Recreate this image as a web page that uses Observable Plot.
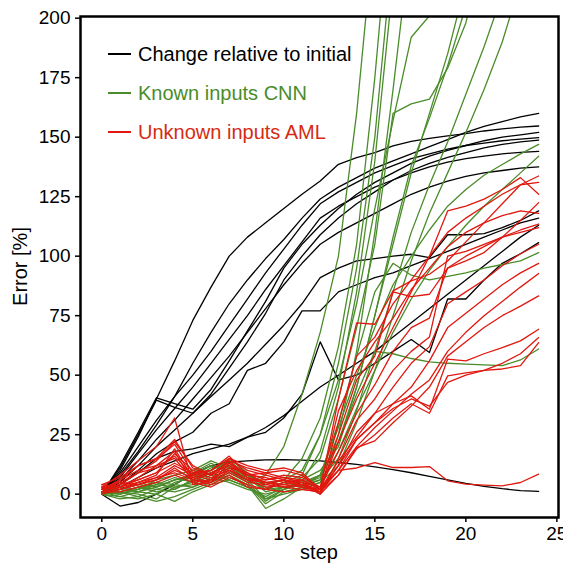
<!DOCTYPE html>
<html><head><meta charset="utf-8">
<script src="https://cdn.jsdelivr.net/npm/d3@7"></script>
<script src="https://cdn.jsdelivr.net/npm/@observablehq/plot@0.6"></script>
<style>
body{margin:0;background:#fff}
#chart{width:563px;height:567px}
</style>
</head><body><div id="chart"></div>
<script>
const steps = [0,1,2,3,4,5,6,7,8,9,10,11,12,13,14,15,16,17,18,19,20,21,22,23,24];
const xTicks = [0,5,10,15,20,25];
const yTicks = [0,25,50,75,100,125,150,175,200];
const xLabel = "step";
const yLabel = "Error [%]";
const seriesNames = ["Change relative to initial","Known inputs CNN","Unknown inputs AML"];
const seriesColors = ["#000000","#4a8c2a","#e0180f"];

// Change relative to initial (black)
const changeRelative = [
  [0,10,24,40,56,73,87,100,108,114,120,126,131.6,138.6,141.4,143.5,146.3,148.2,149.5,150.5,151.5,152.6,153.5,154.2,154.7],
  [0,8,18,29,41,55,68,80,90,99,107,116,124,129,133,137,140,143,146,149,152,154.5,156.5,158.5,160],
  [0,12,26,40.5,38,35.7,44,56,68.6,81,95,105,113,120,126,131,135,139,142,144.5,146.5,148.5,150,151,152],
  [0,11,25,39.5,36.5,34,42,53,64,76,90,100,109,116,122,127,132,136,139,141.5,143.5,145.5,147,148,148.8],
  [0,9,20,31,41,50,60,71,82,93,103,113,122,127,131,135,138,141,143,145,146.5,147.5,148.5,149.2,149.8],
  [0,7,17,27,36,45,55,65,75,86,96,106,116,121,125,129,132,135,137.5,139.5,141,142,143,143.6,144],
  [0,6,14,23,31,40,49,58,68,78,88,97,105,110,114,118,122,126,129,131.5,133.5,135,136,137,137.5],
  [0,5,12,20,27,34,41,48,55,63,71,80,91,95,98,99,100,100.8,99.4,109,109,109.5,112,115,119],
  [0,4,10,17,22,26,34,38,52,55,64,77,77,85,88,91,93,96,99,102,105,108,111,114,116],
  [0,4,9,15,18,19,21,20,24,26,32,42,64,48,50,55,60,65,59.5,82,82,90,97,101,105.7],
  [0,3,7,11,14,17,19,21,24,28,33,39,45,50,55,60,66,72,78,84,90,96,102,108,113],
  [0,-5,-3.5,0,4,8.5,12,13.5,14,14.4,14.5,14.3,14,13.3,12.5,11.5,10.3,9,7.5,6,4.5,3.3,2.3,1.5,1.2]
];

// Known inputs CNN (green)
const knownCNN = [
  [0,2,4,3,6,8,12,10,5,8,20,42,68,100,160,240],
  [1,0,3,5,2,6,10,14,8,4,6,15,32,62,105,175,260],
  [0,-1,1,4,7,5,9,12,6,2,5,8,25,55,95,150,230],
  [2,1,0,-2,3,4,8,6,3,-1,3,5,18,45,85,140,215],
  [0,1,3,2,1,3,7,5,2,0,2,4,6,25,60,110,170,235],
  [0,3,2,5,4,9,13,10,7,4,6,10,25,48,80,120,157,192,201],
  [1,2,5,3,6,7,11,13,8,5,4,7,15,40,70,105,160,164,166,179,198,230],
  [0,-2,-1,2,4,3,6,9,5,-3,2,6,10,20,45,75,105,135,160,185,215],
  [1,0,2,6,8,10,14,11,8,2,3,4,8,22,45,75,108,138,158,180,205],
  [0,1,-1,-3,-1,2,5,8,4,-6,-2,3,6,15,35,60,85,110,130,148,168,188,210],
  [2,3,1,0,5,7,10,15,9,3,1,2,5,12,30,52,75,98,118,135,152,170,190,215],
  [1,0,2,4,3,5,9,12,7,1,3,5,8,28,50,70,88,100,111,121,128,134,138.5,143,147],
  [0,2,1,3,6,8,12,9,6,-2,0,2,5,18,36,52,68,82,94,104,113,121,128,135,142],
  [2,1,3,1,2,6,9,7,4,-4,1,3,8,30,58,85,97,92,90,91.5,93,95,96.5,98,101.5],
  [1,-1,-2,0,-3,1,4,6,3,-2,2,4,7,22,42,60,59,57,55.6,55,54.6,54.3,54,56.4,61]
];

// Unknown inputs AML (red)
const unknownAML = [
  [3,8,14,20,32,4,5,10,6,5,4,3,2,22,40,55,70,85,100,119,121,124,128,133,126],
  [2,4,9,14,22,12,8,14,7,5,6,4,1,30,58,66,80,90,100,110,116,121,126,130,131],
  [1,6,12,14.7,21,9,10,16,8,7,5,6,2,40,72,71.4,85.4,89.6,92.4,98,106,114,122,130,133.7],
  [4,3,5,8,19,7,5,13,9,4,3,2,1,25,48,58,85,83,84,95,98,101.5,108,115,122.5],
  [2,5,4,7,12,8,6,15,10,8,6,5,3,18,34,46,60,70,74,95,100,104,108,111,113.5],
  [1,3,6,9,17,10,8,11,6,3,4,5,0,15,31,40,52,60,66,100,102,105,108,110,112],
  [3,2,4,6,10,7,9,12,8,9,7,6,2,14,24,34,45,55,62,80,85,90,96,101,105],
  [0,2,5,7,9,6,5,9,5,4,6,3,1,12,23,30,38,45,56,70,76,82,88,93,97],
  [2,6,10,12,15,6,4,8,3,2,5,4,2,10,20,28,35,42,48,60,68,75,81,87,92.7],
  [1,1,3,5,8,5,3,7,4,2,1,2,1,8,19.6,22.4,30,37,45,58,64,70,75,79,83.3],
  [4,7,12,15,23,11,8,14,11,9,10,8,2,12,26,34,38,41.3,35.7,56.7,56,59,61.6,64.4,69.3],
  [2,4,6,9,13,9,7,10,6,6,7,5,1,10,23,30,36,40,37,47,50,52,55,59,65.8],
  [1,2,4,6,11,6,9,13,7,5,3,4,0,8,19,25,32,38,34,49.7,51,52,52.6,54,63.7],
  [3,5,9,11,16,8,10,15,12,10,11,9,2,10,11,13.3,11.2,11.2,11.6,5.6,4.2,3.8,3.5,4.9,8.4],
  [2,3,7,12,18,5,6,11,9,6,8,7,3,35,52,64,74,86,95,104,110,114,117,119,118]
];

function toRows(list, group) {
  const rows = [];
  list.forEach((vals, k) => vals.forEach((v, i) => rows.push({group, id: group + "-" + k, step: steps[i], value: v})));
  return rows;
}
const blackRows = toRows(changeRelative, 0);
const greenRows = toRows(knownCNN, 1);
const redRows = toRows(unknownAML, 2);

const font = '"Liberation Sans", Arial, Helvetica, sans-serif';
const W = 563, H = 567, mL = 80, mR = 5, mT = 16, mB = 50;

const plot = Plot.plot({
  width: W, height: H,
  marginLeft: mL, marginRight: mR, marginTop: mT, marginBottom: mB,
  style: {fontFamily: font, fontSize: "19px", color: "black", background: "white", overflow: "visible"},
  x: {domain: [-1.17, 25.09]},
  y: {domain: [-9.8, 200.7]},
  marks: [
    Plot.line(blackRows, {x: "step", y: "value", z: "id", stroke: seriesColors[0], strokeWidth: 1.3, clip: true}),
    Plot.line(greenRows, {x: "step", y: "value", z: "id", stroke: seriesColors[1], strokeWidth: 1.3, clip: true}),
    Plot.line(redRows, {x: "step", y: "value", z: "id", stroke: seriesColors[2], strokeWidth: 1.3, clip: true}),
    Plot.frame({stroke: "black", strokeWidth: 2.5}),
    Plot.axisX({ticks: xTicks, tickSize: 5, tickPadding: 4, strokeWidth: 1.5, fontSize: 19, label: null}),
    Plot.axisY({ticks: yTicks, tickSize: 5, tickPadding: 5, strokeWidth: 1.5, fontSize: 19, label: null})
  ]
});
document.getElementById("chart").appendChild(plot);

const svg = d3.select(plot);
// axis titles
svg.append("text").attr("x", (mL + W - mR) / 2).attr("y", 559)
  .attr("text-anchor", "middle").attr("font-family", font).attr("font-size", 20).attr("fill", "black").text(xLabel);
svg.append("text").attr("transform", `translate(27,${(mT + H - mB) / 2}) rotate(-90)`)
  .attr("text-anchor", "middle").attr("font-family", font).attr("font-size", 20).attr("fill", "black").text(yLabel);

// legend inside plot, top-left
const leg = svg.append("g").attr("font-family", font).attr("font-size", 20).attr("text-anchor", "start");
seriesNames.forEach((name, i) => {
  const y = 54 + i * 39;
  leg.append("line").attr("x1", 108).attr("x2", 131).attr("y1", y).attr("y2", y)
    .attr("stroke", seriesColors[i]).attr("stroke-width", 2);
  leg.append("text").attr("x", 138).attr("y", y).attr("dy", "0.35em").attr("text-anchor", "start")
    .attr("fill", i === 2 ? "#d62b12" : seriesColors[i]).text(name);
});
</script>
</body></html>
